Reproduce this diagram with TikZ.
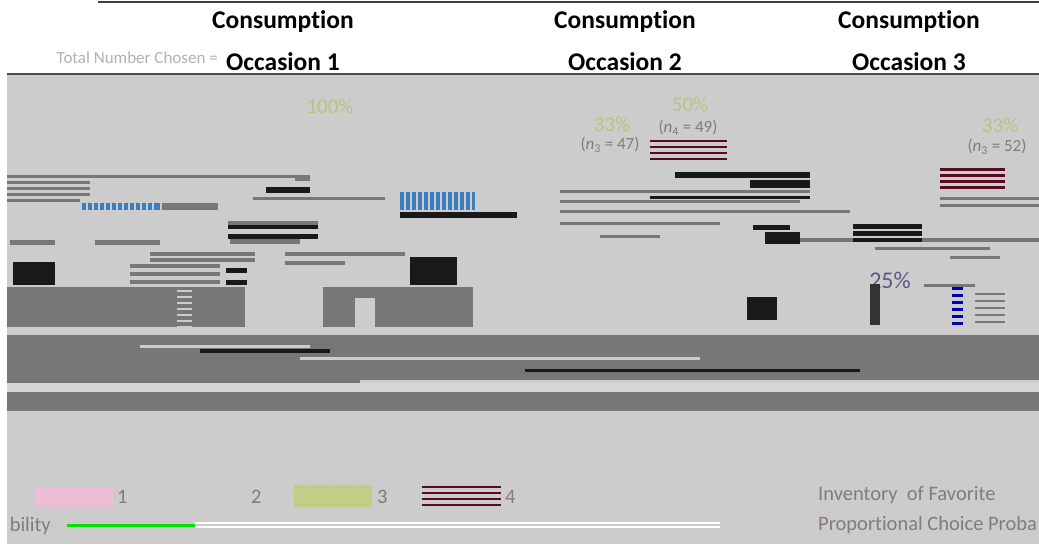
\documentclass[tikz,border=0pt]{standalone}
\usepackage{fontspec}
\setmainfont{Carlito}[Ligatures={NoCommon}]
\usetikzlibrary{patterns}
\definecolor{panel}{HTML}{CCCCCC}
\definecolor{band}{HTML}{777777}
\definecolor{txt}{HTML}{857A7C}
\definecolor{pct}{HTML}{B8C484}
\definecolor{maroon}{HTML}{5A0A1E}
\definecolor{pinkbox}{HTML}{EFBCD5}
\definecolor{dotbox}{HTML}{C6CD8C}
\definecolor{barblue}{HTML}{3A7FC0}
\tikzset{
  hdr/.style={font=\fontsize{25.5}{29}\selectfont\bfseries, text=black, inner sep=0pt},
  lbl/.style={font=\fontsize{17}{20}\selectfont, text=txt, inner sep=0pt},
  pcnt/.style={font=\fontsize{21}{24}\selectfont, text=pct, inner sep=0pt},
  leg/.style={font=\fontsize{20.5}{24}\selectfont, text=txt, inner sep=0pt},
  darkbar/.style={fill=band, draw=none},
  blackbar/.style={fill=black!90, draw=none},
  stripe/.style={draw=maroon, line width=3pt},
}
\begin{document}
\begin{tikzpicture}[x=1pt,y=-1pt]
\useasboundingbox (0,0) rectangle (1039,544);
\fill[white] (0,0) rectangle (1039,544);
% top rule
\draw[black!75, line width=1.5pt] (98,2) -- (1039,2);
% headers
\node[hdr] (h1) at (283,22) {Consumption};
\node[hdr] (h2) at (625,22) {Consumption};
\node[hdr] (h3) at (909,22) {Consumption};
\node[hdr] (o1) at (283,62) {Occasion 1};
\node[hdr] (o2) at (625,62) {Occasion 2};
\node[hdr] (o3) at (909,62) {Occasion 3};
\node[font=\fontsize{17}{20}\selectfont, text=black!30, anchor=east, inner sep=0pt] (tot) at (218,58) {Total Number Chosen =};
% panel
\fill[panel] (7,74) rectangle (1039,544);
\draw[black!70, line width=1.5pt] (7,74) -- (1039,74);
% percentage and n labels
\node[pcnt] (p100) at (330,106) {100\%};
\node[pcnt] (p33a) at (612,124) {33\%};
\node[pcnt] (p50) at (690,104) {50\%};
\node[lbl] (n47) at (610,145) {(\textit{n}\textsubscript{3} = 47)};
\node[lbl] (n49) at (688,128) {(\textit{n}\textsubscript{4} = 49)};
\node[pcnt] (p33b) at (1000,125) {33\%};
\node[lbl] (n52) at (997,147) {(\textit{n}\textsubscript{3} = 52)};
\node[font=\fontsize{24}{28}\selectfont, text=black!40!blue!30!gray, inner sep=0pt] (p25) at (890,280) {25\%};
% maroon stripes below n4
\foreach \yy in {141,147,153,159} \draw[stripe,line width=2.5pt] (650,\yy) -- (727,\yy);
% noisy chart rows (top area)
\fill[darkbar] (7,175) rectangle (310,178);
\fill[darkbar] (7,181) rectangle (90,184);
\fill[darkbar] (7,187) rectangle (90,190);
\fill[darkbar] (7,193) rectangle (90,196);
\fill[darkbar] (7,199) rectangle (80,202);
\fill[darkbar] (295,177) rectangle (310,181);
\fill[darkbar] (162,203) rectangle (218,210);
\fill[darkbar] (253,197) rectangle (385,200);
\fill[blackbar] (400,212) rectangle (517,218);
\fill[barblue] (400,192) rectangle (475,210);
\foreach \xx in {404,410,...,472} \fill[panel] (\xx,192) rectangle (\xx+2,210);
\fill[barblue] (82,203) rectangle (160,210);
\foreach \xx in {86,92,...,156} \fill[panel] (\xx,203) rectangle (\xx+2,210);
% mid-left rows
\fill[darkbar] (10,240) rectangle (55,245);
\fill[darkbar] (95,240) rectangle (160,245);
\fill[darkbar] (230,237) rectangle (300,244);
\fill[darkbar] (228,221) rectangle (318,225);
\fill[darkbar] (150,252) rectangle (255,256);
\fill[darkbar] (150,258) rectangle (255,262);
\fill[darkbar] (130,264) rectangle (220,268);
\fill[darkbar] (130,272) rectangle (220,276);
\fill[darkbar] (130,280) rectangle (220,284);
\fill[darkbar] (285,252) rectangle (405,256);
\fill[darkbar] (285,261) rectangle (345,265);
\fill[blackbar] (226,268) rectangle (247,273);
\fill[blackbar] (226,280) rectangle (247,285);
\fill[blackbar] (266,187) rectangle (310,193);
\fill[blackbar] (228,225) rectangle (318,229);
\fill[blackbar] (228,234) rectangle (318,239);
% black boxes
\fill[blackbar] (13,262) rectangle (55,285);
\fill[blackbar] (410,257) rectangle (457,285);
% big grey blocks
\fill[darkbar] (7,287) rectangle (177,327);
\fill[darkbar] (177,287) rectangle (245,327);
\foreach \yy in {290,296,...,326} \fill[panel] (177,\yy) rectangle (192,\yy+2);
\fill[darkbar] (323,287) rectangle (473,327);
\fill[panel] (355,298) rectangle (375,327);
% right area rows
\fill[blackbar] (753,225) rectangle (790,230);
\fill[blackbar] (765,232) rectangle (800,244);
\fill[darkbar] (800,238) rectangle (1039,242);
\fill[blackbar] (853,224) rectangle (922,229);
\fill[blackbar] (853,231) rectangle (922,236);
\fill[blackbar] (853,238) rectangle (922,242);
\fill[darkbar] (875,247) rectangle (990,250);
\fill[darkbar] (950,256) rectangle (1000,259);
\fill[blackbar] (747,297) rectangle (777,320);
\fill[darkbar] (924,284) rectangle (975,287);
\foreach \yy in {293,300,...,321} \fill[darkbar] (975,\yy) rectangle (1005,\yy+2);
\foreach \yy in {287,294,...,322} \fill[blue!70!black] (952,\yy) rectangle (963,\yy+3);
\fill[black!80] (870,284) rectangle (880,325);
\foreach \yy in {168,174,...,190} \fill[maroon] (940,\yy) rectangle (1005,\yy+3);
\fill[darkbar] (940,197) rectangle (1039,200);
\fill[darkbar] (940,204) rectangle (1039,207);
\fill[blackbar] (750,180) rectangle (810,188);
\fill[blackbar] (675,172) rectangle (810,178);
\fill[darkbar] (560,190) rectangle (810,193);
\fill[darkbar] (560,200) rectangle (800,203);
\fill[blackbar] (650,196) rectangle (810,199);
\fill[darkbar] (560,210) rectangle (850,213);
\fill[darkbar] (560,222) rectangle (720,225);
\fill[darkbar] (600,235) rectangle (660,238);
% dark bands
\fill[band] (7,335) rectangle (1039,384);
\fill[band] (7,392) rectangle (1039,411);
\fill[panel!80!white] (7,383) rectangle (1039,392);
\fill[blackbar] (200,349) rectangle (330,353);
\fill[blackbar] (525,369) rectangle (860,372);
\fill[panel] (140,345) rectangle (310,348);
\fill[panel] (300,357) rectangle (700,360);
\fill[panel] (360,380) rectangle (1039,383);
% legend
\fill[pinkbox] (35,487) rectangle (113,507);
\node[leg, anchor=west] (l1) at (117,497) {1};
\node[leg, anchor=west] (l2) at (251,497) {2};
\fill[dotbox] (294,485) rectangle (372,507);
\fill[pattern=dots, pattern color=yellow!60!green!70!gray] (294,485) rectangle (372,507);
\node[leg, anchor=west] (l3) at (377,497) {3};
\foreach \yy in {487,493,499,505} \draw[stripe,line width=2.5pt] (422,\yy) -- (501,\yy);
\node[leg, anchor=west] (l4) at (505,497) {4};
\draw[green!90!black, line width=3pt] (67,525) coordinate (g1) -- (195,525) coordinate (g2);
\draw[white, line width=1.5pt] (g2) ++(0,-2) -- (720,523);
\draw[white, line width=1.5pt] (g2) ++(0,2) -- (720,527);
\node[leg, anchor=east] (bil) at (51,526) {bility};
\node[leg, anchor=west] (inv) at (818,495) {Inventory\ \ of Favorite};
\node[leg, anchor=west] (pcp) at (818,525) {Proportional Choice Proba};
\end{tikzpicture}
\end{document}
